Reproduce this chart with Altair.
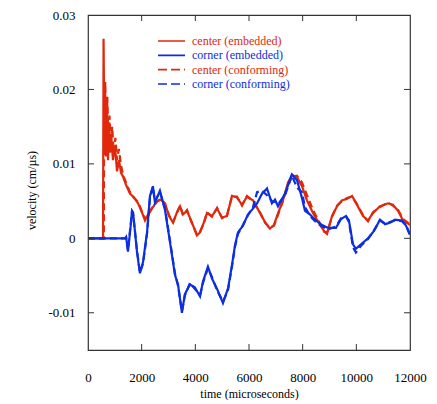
import altair as alt
import pandas as pd

series_names = ["center (embedded)", "corner (embedded)", "center (conforming)", "corner (conforming)"]
series_colors = ["#e0280c", "#0c2ee0", "#e0280c", "#0c2ee0"]
series_dashes = [[1, 0], [1, 0], [7, 4], [7, 4]]

t_center_emb = [0, 560, 580, 615, 635, 670, 710, 745, 780, 820, 855, 930, 1005, 1080, 1155, 1230, 1305, 1415,
                1565, 1715, 1865, 2010, 2125, 2235, 2385, 2570, 2720, 2870, 3020, 3170, 3315, 3430, 3540, 3690,
                3875, 4060, 4175, 4325, 4435, 4620, 4810, 4995, 5180, 5365, 5550, 5740, 5925, 6150, 6410, 6595,
                6780, 6930, 7045, 7265, 7455, 7600, 7790, 7975, 8160, 8385, 8645, 8795, 8905, 9095, 9280, 9465,
                9650, 9840, 10025, 10250, 10435, 10620, 10880, 11180, 11365, 11555, 11740, 12000]
v_center_emb = [0, 0, 0.0268, 0.012, 0.021, 0.011, 0.018, 0.0105, 0.0155, 0.0115, 0.014, 0.0105, 0.0125, 0.009,
                0.0105, 0.0088, 0.0083, 0.0072, 0.006, 0.0055, 0.0047, 0.0035, 0.0024, 0.0032, 0.004, 0.005,
                0.0052, 0.0047, 0.003, 0.0021, 0.0035, 0.0043, 0.0032, 0.0037, 0.0021, 0.0004, 0.0008, 0.0022,
                0.0034, 0.003, 0.004, 0.0028, 0.003, 0.0057, 0.0055, 0.0045, 0.0056, 0.0051, 0.0034, 0.0022,
                0.0013, 0.0018, 0.003, 0.0051, 0.0075, 0.0085, 0.0082, 0.007, 0.0051, 0.0034, 0.0018, 0.001,
                0.0006, 0.003, 0.0043, 0.0051, 0.0053, 0.0057, 0.0045, 0.003, 0.0024, 0.0034, 0.0043, 0.0047,
                0.0045, 0.0037, 0.0024, 0.0018]

t_center_conf = [0, 590, 600, 640, 680, 720, 760, 800, 850, 900, 960, 1020, 1080, 1150, 1230, 1310, 1415, 1565,
                 1715, 1865, 2010, 2125, 2235, 2385, 2570, 2720, 2870, 3020, 3170, 3315, 3430, 3540, 3690, 3875,
                 4060, 4175, 4325, 4435, 4620, 4810, 4995, 5180, 5365, 5550, 5740, 5925, 6150, 6410, 6595, 6780,
                 6930, 7045, 7265, 7455, 7600, 7790, 7975, 8160, 8385, 8645, 8795, 8905, 9095, 9280, 9465, 9650,
                 9840, 10025, 10250, 10435, 10620, 10880, 11180, 11365, 11555, 11740, 12000]
v_center_conf = [0, 0, 0.017, 0.021, 0.013, 0.019, 0.0125, 0.0165, 0.0125, 0.015, 0.0115, 0.0135, 0.0105, 0.012,
                 0.0098, 0.0085, 0.0075, 0.0062, 0.0054, 0.0049, 0.0036, 0.0026, 0.0031, 0.0041, 0.0049, 0.0053,
                 0.0046, 0.0031, 0.0022, 0.0034, 0.0044, 0.0031, 0.0038, 0.002, 0.0005, 0.0009, 0.0021, 0.0035,
                 0.0029, 0.0041, 0.0027, 0.0031, 0.0056, 0.0056, 0.0044, 0.0057, 0.005, 0.0035, 0.0021, 0.0014,
                 0.0017, 0.0028, 0.005, 0.0072, 0.0083, 0.0084, 0.0075, 0.0058, 0.0038, 0.002, 0.0009, 0.0007,
                 0.0029, 0.0044, 0.005, 0.0054, 0.0056, 0.0046, 0.0031, 0.0023, 0.0035, 0.0042, 0.0048, 0.0044,
                 0.0038, 0.0026, 0.0019]

t_corner = [0, 1380, 1420, 1490, 1600, 1640, 1680, 1825, 1935, 2050, 2200, 2310, 2420, 2495, 2680, 2870, 3055,
            3240, 3355, 3500, 3610, 3800, 3985, 4175, 4285, 4470, 4620, 4810, 5030, 5220, 5365, 5480, 5590, 5775,
            5960, 6150, 6300, 6485, 6670, 6855, 6970, 7080, 7340, 7600, 7790, 7975, 8085, 8275, 8460, 8720, 8945,
            9240, 9430, 9615, 9725, 9875, 9985, 10175, 10435, 10660, 10880, 11070, 11255, 11440, 11700, 11850,
            12000]
v_corner_emb = [0, 0, 0.0002, -0.0018, 0.002, 0.0037, 0.0035, -0.0018, -0.0047, -0.0032, 0.0008, 0.0057, 0.007,
                0.0048, 0.0064, 0.0038, -0.0005, -0.0049, -0.0062, -0.01, -0.0075, -0.0062, -0.0066, -0.0078,
                -0.0058, -0.0038, -0.0054, -0.0068, -0.0087, -0.0067, -0.0036, -0.0009, 0.0008, 0.0017, 0.0032,
                0.004, 0.0047, 0.006, 0.0067, 0.0047, 0.0052, 0.0043, 0.006, 0.0086, 0.0078, 0.0054, 0.0037,
                0.0032, 0.0025, 0.0018, 0.0014, 0.0014, 0.0026, 0.003, 0.0024, -0.0008, -0.0014, -0.0008, 0.0,
                0.001, 0.0025, 0.0019, 0.0021, 0.0025, 0.0024, 0.0017, 0.0005]
v_corner_conf = [0, 0, 0.0001, -0.0016, 0.0022, 0.0036, 0.0033, -0.0016, -0.0046, -0.0034, 0.0006, 0.0055,
                 0.0069, 0.005, 0.0062, 0.004, -0.0003, -0.0047, -0.0064, -0.0098, -0.0077, -0.006, -0.0068,
                 -0.0076, -0.006, -0.004, -0.0052, -0.007, -0.0085, -0.0069, -0.0038, -0.0011, 0.0006, 0.0018,
                 0.0031, 0.0042, 0.0062, 0.0064, 0.0058, 0.005, 0.0049, 0.0046, 0.0058, 0.0084, 0.0068, 0.0062,
                 0.0042, 0.003, 0.0023, 0.0016, 0.0012, 0.0016, 0.0027, 0.0029, 0.0022, -0.0012, -0.0019, -0.001,
                 -0.0001, 0.0011, 0.0024, 0.002, 0.0022, 0.0024, 0.0023, 0.0018, 0.0004]

x_ticks = [0, 2000, 4000, 6000, 8000, 10000, 12000]
y_ticks = [-0.01, 0, 0.01, 0.02, 0.03]
inner_x_ticks = [2000, 4000, 6000, 8000, 10000]
inner_y_ticks = [-0.01, 0, 0.01, 0.02]

rows = []
for name, ts, vs in [
    (series_names[0], t_center_emb, v_center_emb),
    (series_names[2], t_center_conf, v_center_conf),
    (series_names[1], t_corner, v_corner_emb),
    (series_names[3], t_corner, v_corner_conf),
]:
    for i, (t, v) in enumerate(zip(ts, vs)):
        rows.append({"series": name, "t": t, "v": v, "i": i})
df = pd.DataFrame(rows)

W, H = 322, 335
FONT = "Liberation Serif"
xscale = alt.Scale(domain=[0, 12000], nice=False, zero=False)
yscale = alt.Scale(domain=[-0.015, 0.03], nice=False, zero=False)
color_scale = alt.Scale(domain=series_names, range=series_colors)
dash_scale = alt.Scale(domain=series_names, range=series_dashes)

font_kw = dict(labelFont=FONT, titleFont=FONT, labelFontSize=13, titleFontSize=12, labelColor="black",
               titleColor="black", titleFontWeight="normal", labelFontWeight="normal")

lines = alt.Chart(df).mark_line(strokeWidth=2.2, clip=True).encode(
    x=alt.X("t:Q", scale=xscale,
            axis=alt.Axis(values=x_ticks, format="d", title="time (microseconds)", ticks=False, domain=False,
                          grid=False, labelPadding=21, titlePadding=4, labelFlush=False, labelOverlap=False,
                          **font_kw)),
    y=alt.Y("v:Q", scale=yscale,
            axis=alt.Axis(values=y_ticks, title="velocity (cm/µs)", ticks=False, domain=False, grid=False,
                          labelPadding=13, labelOverlap=False, labelFlush=False,
                          labelExpr="datum.value == 0 ? '0' : (datum.value < 0 ? '-' : '') + format(abs(datum.value), '.2f')",
                          titleX=-53, titleY=175, titleBaseline="alphabetic", **font_kw)),
    color=alt.Color("series:N", scale=color_scale, legend=None),
    strokeDash=alt.StrokeDash("series:N", scale=dash_scale, legend=None),
    detail="series:N",
    order="i:Q",
)

xt = pd.DataFrame({"tick": inner_x_ticks})
yt = pd.DataFrame({"tick": inner_y_ticks})
tick_style = dict(color="#333333", strokeWidth=1)
bottom_ticks = alt.Chart(xt).mark_rule(**tick_style).encode(
    x=alt.X("tick:Q", scale=xscale, axis=None), y=alt.value(H), y2=alt.value(H - 6))
top_ticks = alt.Chart(xt).mark_rule(**tick_style).encode(
    x=alt.X("tick:Q", scale=xscale, axis=None), y=alt.value(0), y2=alt.value(6))
left_ticks = alt.Chart(yt).mark_rule(**tick_style).encode(
    y=alt.Y("tick:Q", scale=yscale, axis=None), x=alt.value(0), x2=alt.value(6))
right_ticks = alt.Chart(yt).mark_rule(**tick_style).encode(
    y=alt.Y("tick:Q", scale=yscale, axis=None), x=alt.value(W), x2=alt.value(W - 6))

leg_df = pd.DataFrame({"series": series_names})
leg_y = alt.Y("series:N", scale=alt.Scale(type="point", domain=series_names, range=[26, 69], padding=0), axis=None)
leg_lines = alt.Chart(leg_df).mark_rule(strokeWidth=1.6).encode(
    y=leg_y, x=alt.value(70), x2=alt.value(97),
    color=alt.Color("series:N", scale=color_scale, legend=None),
    strokeDash=alt.StrokeDash("series:N", scale=alt.Scale(domain=series_names, range=[[1, 0], [1, 0], [9, 4], [9, 4]]), legend=None),
)
leg_text = alt.Chart(leg_df).mark_text(align="left", baseline="middle", font=FONT, fontSize=12).encode(
    y=leg_y, x=alt.value(104), text="series:N",
    color=alt.Color("series:N", scale=color_scale, legend=None),
)

chart = alt.layer(lines, bottom_ticks, top_ticks, left_ticks, right_ticks, leg_lines, leg_text).resolve_scale(
    y="independent", strokeDash="independent"
).resolve_axis(x="independent", y="independent").properties(
    width=W, height=H,
    title=alt.Title("time (µ sec)", font=FONT, fontSize=12, fontWeight="normal", offset=2,
                    baseline="alphabetic", anchor="middle", color="black"),
    autosize=alt.AutoSizeParams(type="none"),
    padding={"left": 80, "top": 7, "right": 19, "bottom": 50},
    background="white",
).configure_view(stroke="#333333", strokeWidth=1.2).configure_axis(**font_kw).configure_text(font=FONT)

chart.save("out.html", embed_options={"renderer": "svg", "actions": False})
